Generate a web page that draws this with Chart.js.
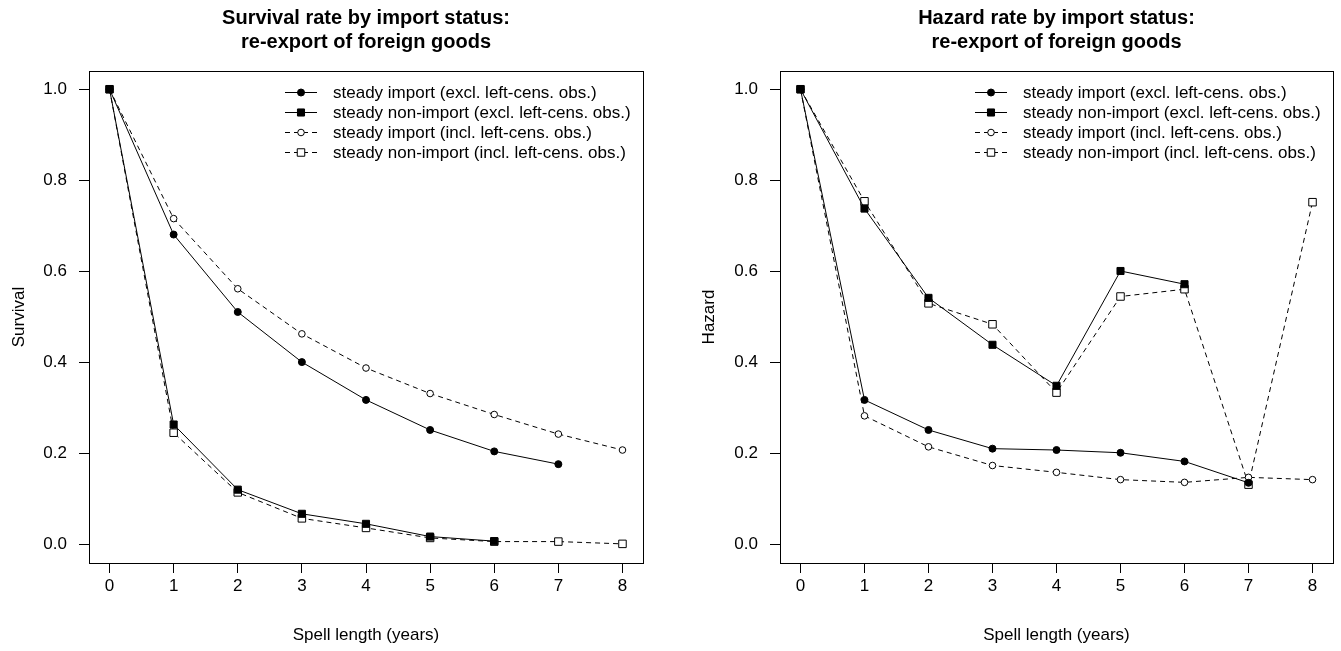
<!DOCTYPE html>
<html>
<head>
<meta charset="utf-8">
<title>Survival and hazard rate by import status</title>
<script src="https://cdn.jsdelivr.net/npm/chart.js@4.4.0/dist/chart.umd.min.js"></script>
<style>
    body { margin: 0; background: #fff; }
    #wrap { position: relative; width: 1341px; height: 651px; }
    canvas { position: absolute; top: 0; }
</style>
</head>
<body>
<div id="wrap">
    <canvas id="survival-chart" width="690" height="651" style="left:0"></canvas>
    <canvas id="hazard-chart" width="651" height="651" style="left:690px"></canvas>
</div>
<script>
// data
const spellYears = [0, 1, 2, 3, 4, 5, 6, 7, 8];
const xTicks = [0, 1, 2, 3, 4, 5, 6, 7, 8];
const yTicks = [0, 0.2, 0.4, 0.6, 0.8, 1.0];

const seriesLabels = [
    'steady import (excl. left-cens. obs.)',
    'steady non-import (excl. left-cens. obs.)',
    'steady import (incl. left-cens. obs.)',
    'steady non-import (incl. left-cens. obs.)'
];

// survival
const survImportExcl    = [1.0, 0.681, 0.511, 0.401, 0.318, 0.252, 0.205, 0.177];
const survNonImportExcl = [1.0, 0.264, 0.121, 0.068, 0.046, 0.018, 0.008];
const survImportIncl    = [1.0, 0.716, 0.562, 0.463, 0.388, 0.332, 0.286, 0.243, 0.208];
const survNonImportIncl = [1.0, 0.246, 0.115, 0.058, 0.037, 0.015, 0.007, 0.007, 0.002];

// hazard
const hazImportExcl    = [1.0, 0.318, 0.252, 0.211, 0.208, 0.202, 0.183, 0.136];
const hazNonImportExcl = [1.0, 0.738, 0.542, 0.439, 0.349, 0.601, 0.572];
const hazImportIncl    = [1.0, 0.283, 0.215, 0.174, 0.159, 0.143, 0.137, 0.148, 0.143];
const hazNonImportIncl = [1.0, 0.754, 0.530, 0.484, 0.334, 0.545, 0.561, 0.132, 0.752];

const FONT = "'Liberation Sans', Arial, sans-serif";
Chart.defaults.font.family = FONT;
Chart.defaults.color = '#000';

// line / marker look of the four series (R: pch 19, 15, 1, 0; lty 1, 1, 2, 2)
const seriesStyles = [
    { dash: [],     pointStyle: 'circle', filled: true,  radius: 3.5 },
    { dash: [],     pointStyle: 'rect',   filled: true,  radius: 5 },
    { dash: [5, 4], pointStyle: 'circle', filled: false, radius: 3.3 },
    { dash: [5, 4], pointStyle: 'rect',   filled: false, radius: 5.3 }
];

function makeDatasets(seriesValues) {
    return seriesValues.map((values, i) => {
        const st = seriesStyles[i];
        return {
            label: seriesLabels[i],
            data: values.map((v, j) => ({ x: spellYears[j], y: v })),
            borderColor: '#000',
            borderWidth: 1,
            borderDash: st.dash,
            tension: 0,
            fill: false,
            pointStyle: st.pointStyle,
            pointRadius: st.radius,
            pointBackgroundColor: st.filled ? '#000' : '#fff',
            pointBorderColor: '#000',
            pointBorderWidth: 1
        };
    });
}

// box, title and legend inside the plot, R style
const rStylePlugin = {
    id: 'rStyle',
    afterDraw(chart, args, opts) {
        const ctx = chart.ctx;
        const area = chart.chartArea;
        ctx.save();

        // frame
        ctx.strokeStyle = '#000';
        ctx.lineWidth = 1;
        ctx.setLineDash([]);
        ctx.strokeRect(Math.round(area.left) + 0.5, Math.round(area.top) + 0.5,
            Math.round(area.right - area.left), Math.round(area.bottom - area.top));

        // title
        const cx = (area.left + area.right) / 2;
        ctx.fillStyle = '#000';
        ctx.font = 'bold 20px ' + FONT;
        ctx.textAlign = 'center';
        ctx.textBaseline = 'middle';
        opts.title.forEach((line, i) => ctx.fillText(line, cx, 18 + i * 24));

        // legend (topright, no box)
        ctx.font = '17px ' + FONT;
        ctx.textAlign = 'left';
        chart.data.datasets.forEach((ds, i) => {
            const y = area.top + 21 + i * 20;
            const st = seriesStyles[i];
            ctx.strokeStyle = '#000';
            ctx.lineWidth = 1;
            ctx.setLineDash(st.dash);
            ctx.beginPath();
            ctx.moveTo(area.right - 358, y + 0.5);
            ctx.lineTo(area.right - 326, y + 0.5);
            ctx.stroke();
            ctx.setLineDash([]);
            ctx.fillStyle = st.filled ? '#000' : '#fff';
            Chart.helpers.drawPoint(ctx, {
                pointStyle: st.pointStyle,
                radius: st.radius,
                borderWidth: 1,
                rotation: 0
            }, area.right - 342, y + 0.5);
            ctx.fillStyle = '#000';
            ctx.fillText(ds.label, area.right - 310, y + 1);
        });
        ctx.restore();
    }
};

function makeChart(canvasId, title, yTitle, seriesValues, yAxisWidth, rightPad) {
    const ctx = document.getElementById(canvasId);
    return new Chart(ctx, {
        type: 'line',
        data: { datasets: makeDatasets(seriesValues) },
        options: {
            responsive: false,
            animation: false,
            layout: { padding: { top: 71, right: rightPad, left: 0, bottom: 0 } },
            plugins: {
                legend: { display: false },
                tooltip: { enabled: false },
                rStyle: { title: title }
            },
            scales: {
                x: {
                    type: 'linear',
                    min: -0.32,
                    max: 8.32,
                    afterBuildTicks: s => { s.ticks = xTicks.map(v => ({ value: v })); },
                    afterFit: s => { s.height = 88; },
                    grid: { drawOnChartArea: false, drawTicks: true, tickLength: 10, tickColor: '#000' },
                    border: { display: false },
                    ticks: {
                        callback: v => String(v),
                        font: { size: 17 },
                        color: '#000',
                        padding: 3,
                        maxRotation: 0,
                        autoSkip: false
                    },
                    title: {
                        display: true,
                        text: 'Spell length (years)',
                        font: { size: 17 },
                        color: '#000',
                        padding: { top: 0, bottom: 5 }
                    }
                },
                y: {
                    type: 'linear',
                    min: -0.04,
                    max: 1.04,
                    afterBuildTicks: s => { s.ticks = yTicks.map(v => ({ value: v })); },
                    afterFit: s => { s.width = yAxisWidth; },
                    grid: { drawOnChartArea: false, drawTicks: true, tickLength: 10, tickColor: '#000' },
                    border: { display: false },
                    ticks: {
                        callback: v => v.toFixed(1),
                        font: { size: 17 },
                        color: '#000',
                        padding: 12
                    },
                    title: {
                        display: true,
                        text: yTitle,
                        font: { size: 17 },
                        color: '#000',
                        padding: { top: 9, bottom: 0 }
                    }
                }
            }
        },
        plugins: [rStylePlugin]
    });
}

window.survivalChart = makeChart('survival-chart',
    ['Survival rate by import status:', 're-export of foreign goods'], 'Survival',
    [survImportExcl, survNonImportExcl, survImportIncl, survNonImportIncl], 89, 47);

window.hazardChart = makeChart('hazard-chart',
    ['Hazard rate by import status:', 're-export of foreign goods'], 'Hazard',
    [hazImportExcl, hazNonImportExcl, hazImportIncl, hazNonImportIncl], 90, 8);
</script>
</body>
</html>
